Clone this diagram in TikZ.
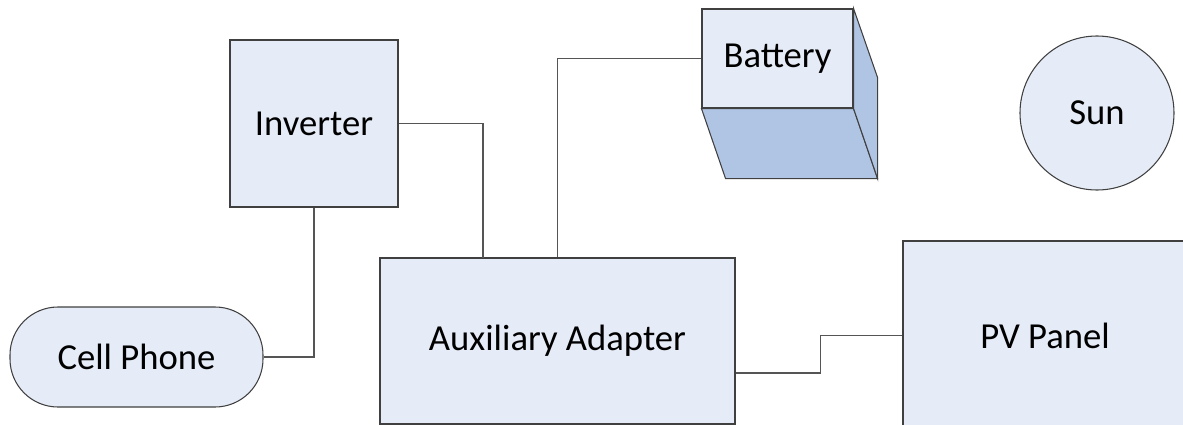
\documentclass[tikz,border=0pt]{standalone}
\usepackage{fontspec}
\setmainfont{Carlito}
\usepackage{xcolor}
\usetikzlibrary{positioning}

\definecolor{boxfill}{HTML}{E6ECF7}
\definecolor{boxdark}{HTML}{B0C4E4}
\definecolor{boxline}{HTML}{404040}
\definecolor{wire}{HTML}{555555}

\tikzset{
  block/.style = {draw = boxline, fill = boxfill, line width = 0.8pt, inner sep = 0pt,
    font = \fontsize{27.5}{32}\selectfont},
  wireline/.style = {draw = wire, line width = 1pt}
}

\begin{document}
\begin{tikzpicture}[x = 0.75pt, y = -0.75pt]
    \useasboundingbox (0, 0) rectangle (1183, 425);
    {
      \node[block, minimum width = 126pt, minimum height = 125.25pt] (inv) at (314, 123.5) {Inverter};
      \node[block, rounded corners = 36pt, minimum width = 189.75pt, minimum height = 75pt] (phone) at (136.5, 357) {Cell Phone};
      \node[block, minimum width = 266.25pt, minimum height = 124.5pt] (aux) at (557.5, 341) {Auxiliary Adapter};
      \node[block, minimum width = 213pt, minimum height = 141.75pt] (pv) at (1045, 335.5) {PV Panel};
      \node[block, circle, minimum size = 115.5pt] (sun) at (1097, 113) {Sun};
    }
    {
      \node[block, minimum width = 113.25pt, minimum height = 74.25pt] (bat) at (777.5, 58.5) {Battery};
      \filldraw[draw = boxline, fill = boxdark, line width = 0.8pt]
        (bat.south west) -- (bat.south east) -- ++(24, 70) -- ++(-152, 0) -- cycle;
      \filldraw[draw = boxline, fill = boxdark, line width = 0.8pt]
        (bat.north east) -- ++(24, 69) -- ++(0, 101) -- (bat.south east) -- cycle;
    }
    \coordinate (auxin) at (483, 258);
    \draw[wireline] (phone.east) -| (inv.south);
    \draw[wireline] (inv.east) -| (auxin);
    \draw[wireline] (aux.north) |- (bat.west);
    \draw[wireline] (aux.east |- 0, 373) -- ++(85, 0) |- (pv.west);
  \end{tikzpicture}
\end{document}
